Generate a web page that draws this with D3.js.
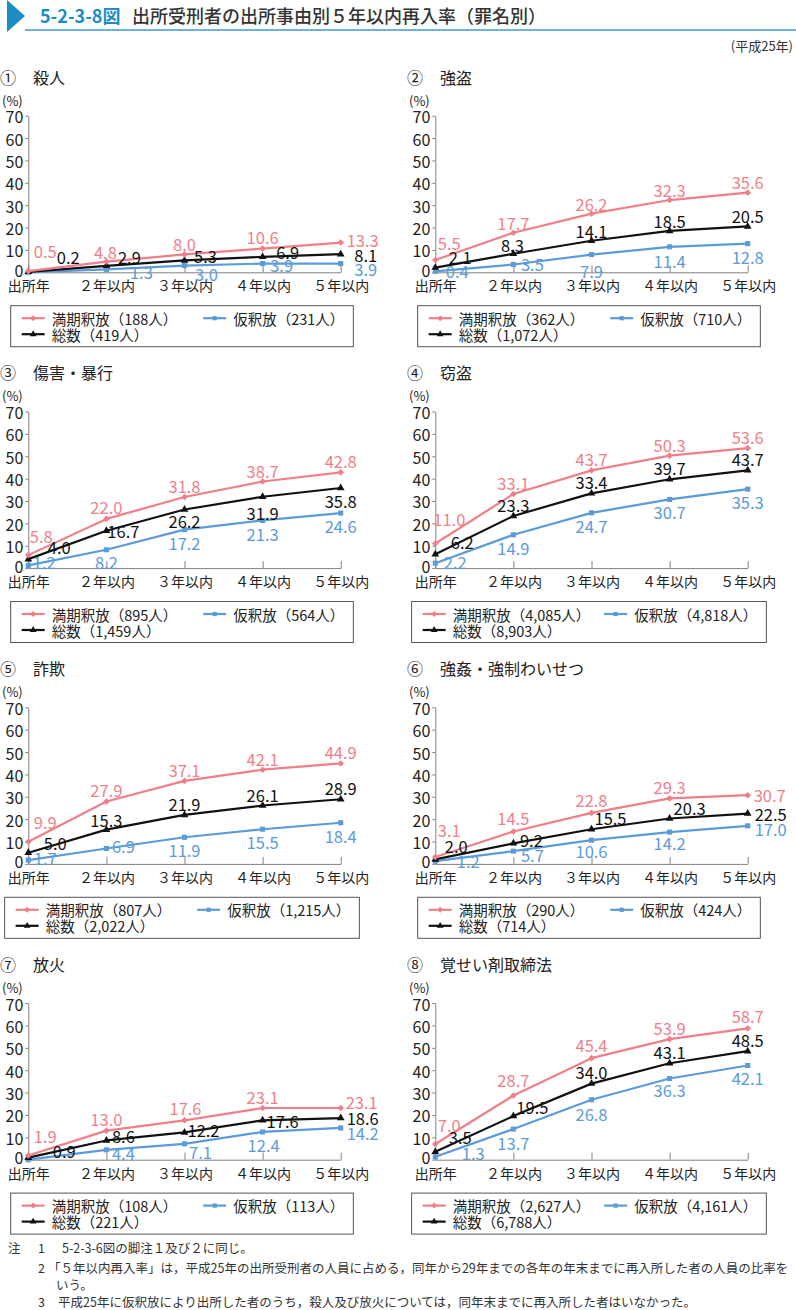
<!DOCTYPE html>
<html><head><meta charset="utf-8">
<script src="https://cdn.jsdelivr.net/npm/d3@7"></script>
<style>
body{margin:0;background:#fff}
svg{display:block}
text{font-family:'Noto Sans CJK JP','Noto Sans',sans-serif}
</style>
</head><body>
<svg id="c" width="796" height="1310"></svg>
<script>
// ---- data ----
const xLabels = ["出所年", "２年以内", "３年以内", "４年以内", "５年以内"];
const yTicks = [0, 10, 20, 30, 40, 50, 60, 70];
const panelNums = ["①", "②", "③", "④", "⑤", "⑥", "⑦", "⑧"];
const panelNames = ["殺人", "強盗", "傷害・暴行", "窃盗", "詐欺", "強姦・強制わいせつ", "放火", "覚せい剤取締法"];
// 満期釈放
const manki = [
  [0.5, 4.8, 8.0, 10.6, 13.3],
  [5.5, 17.7, 26.2, 32.3, 35.6],
  [5.8, 22.0, 31.8, 38.7, 42.8],
  [11.0, 33.1, 43.7, 50.3, 53.6],
  [9.9, 27.9, 37.1, 42.1, 44.9],
  [3.1, 14.5, 22.8, 29.3, 30.7],
  [1.9, 13.0, 17.6, 23.1, 23.1],
  [7.0, 28.7, 45.4, 53.9, 58.7]
];
// 仮釈放
const karishaku = [
  [0, 1.3, 3.0, 3.9, 3.9],
  [0.4, 3.5, 7.9, 11.4, 12.8],
  [1.2, 8.2, 17.2, 21.3, 24.6],
  [2.2, 14.9, 24.7, 30.7, 35.3],
  [1.7, 6.9, 11.9, 15.5, 18.4],
  [1.2, 5.7, 10.6, 14.2, 17.0],
  [0, 4.4, 7.1, 12.4, 14.2],
  [1.3, 13.7, 26.8, 36.3, 42.1]
];
// 総数
const souSu = [
  [0.2, 2.9, 5.3, 6.9, 8.1],
  [2.1, 8.3, 14.1, 18.5, 20.5],
  [4.0, 16.7, 26.2, 31.9, 35.8],
  [6.2, 23.3, 33.4, 39.7, 43.7],
  [5.0, 15.3, 21.9, 26.1, 28.9],
  [2.0, 9.2, 15.5, 20.3, 22.5],
  [0.9, 8.6, 12.2, 17.6, 18.6],
  [3.5, 19.5, 34.0, 43.1, 48.5]
];
const mankiN = ["188", "362", "895", "4,085", "807", "290", "108", "2,627"];
const karishakuN = ["231", "710", "564", "4,818", "1,215", "424", "113", "4,161"];
const souSuN = ["419", "1,072", "1,459", "8,903", "2,022", "714", "221", "6,788"];
// 殺人・放火: 仮釈放の出所年は再入所者なし -> 数値は表示しない
const noLabel = [[0], [], [], [], [], [], [0], []];

// ---- label placement (offsets from the point to the label centre) ----
const mankiOff = [
  [[17,-20],[-1,-10],[0,-10],[0,-12],[22,-3]],
  [[14,-17],[0,-10],[0,-10],[0,-10],[0,-11]],
  [[13,-19],[0,-12],[0,-11],[0,-11],[0,-11]],
  [[14,-24],[0,-11],[0,-11],[0,-11],[0,-11]],
  [[17,-20],[0,-11],[0,-11],[0,-11],[0,-11]],
  [[14,-27],[0,-13],[0,-13],[0,-11],[22,0]],
  [[17,-19],[0,-12],[1,-12],[0,-11],[21,-6]],
  [[14,-19],[0,-15],[0,-13],[0,-11],[0,-12]]
];
const souSuOff = [
  [[40,-15],[23,-9],[21,-4],[25,-5],[25,1]],
  [[25,-11],[-1,-9],[0,-10],[0,-10],[0,-10]],
  [[31,-12],[17,0],[0,12],[0,16],[0,13]],
  [[27,-12],[0,-11],[0,-11],[0,-11],[0,-11]],
  [[27,-10],[0,-10],[0,-11],[0,-11],[0,-11]],
  [[21,-13],[18,-3],[19,-11],[20,-10],[23,0]],
  [[36,-7],[17,-4],[19,-2],[20,1],[22,0]],
  [[25,-15],[19,-9],[0,-12],[0,-11],[0,-11]]
];
const karishakuOff = [
  [[0,0],[35,3],[22,8],[19,1],[25,5]],
  [[22,0],[19,0],[0,16],[0,14],[0,13]],
  [[16,-3],[0,12],[0,13],[0,14],[0,13]],
  [[20,-1],[0,13],[0,13],[0,13],[0,13]],
  [[17,-2],[17,-2],[0,13],[0,13],[0,13]],
  [[33,0],[19,4],[0,11],[0,11],[23,3]],
  [[0,0],[17,3],[16,8],[1,13],[22,5]],
  [[38,-4],[0,14],[0,14],[0,12],[0,12]]
];

// ---- styles ----
const PINK = "#f07f89", BLUE = "#5b9bd9", BLACK = "#111111", AXIS = "#808080";
const FONT = "'Noto Sans CJK JP','Noto Sans',sans-serif";

const svg = d3.select("#c");

// header
svg.append("polygon").attr("points", "7,0 25,16 7,32").attr("fill", "#1b8cc4");
svg.append("line").attr("x1", 25).attr("x2", 796).attr("y1", 30).attr("y2", 30)
  .attr("stroke", "#3b9ad0").attr("stroke-width", 1.5);
svg.append("text").attr("x", 40).attr("y", 15).attr("dominant-baseline", "central")
  .attr("font-size", 18).attr("font-weight", 700).attr("fill", "#1b8cc4").text("5-2-3-8図");
svg.append("text").attr("x", 132).attr("y", 15).attr("dominant-baseline", "central")
  .attr("font-size", 18).attr("font-weight", 500).attr("fill", "#333").text("出所受刑者の出所事由別５年以内再入率（罪名別）");
svg.append("text").attr("x", 793).attr("y", 45).attr("dominant-baseline", "central")
  .attr("text-anchor", "end").attr("font-size", 13).attr("fill", "#333").text("(平成25年)");

// scales (shared by all panels, each panel group is translated)
const x = d3.scalePoint().domain(xLabels).range([28.3, 340.7]);
const y = d3.scaleLinear().domain([0, 70]).range([272.3, 115.7]);
const colX = [0, 407];
const rowDY = 295.8;
const fmt = d3.format(".1f");

const line = d3.line().x((d, j) => x(xLabels[j])).y(d => y(d));

const seriesDefs = [
  {key: "blue", data: karishaku, off: karishakuOff, color: BLUE, sym: d3.symbolSquare, size: 26, rot: 0},
  {key: "black", data: souSu, off: souSuOff, color: BLACK, sym: d3.symbolTriangle, size: 26, rot: 0},
  {key: "pink", data: manki, off: mankiOff, color: PINK, sym: d3.symbolSquare, size: 22, rot: 45}
];

for (let i = 0; i < 8; i++) {
  const col = i % 2, row = Math.floor(i / 2);
  const g = svg.append("g").attr("transform", `translate(${colX[col]},${row * rowDY})`);

  // titles
  g.append("text").attr("x", 0).attr("y", 76.5).attr("dominant-baseline", "central")
    .attr("font-size", 16).attr("fill", "#222").text(panelNums[i]);
  g.append("text").attr("x", 33).attr("y", 76.5).attr("dominant-baseline", "central")
    .attr("font-size", 16).attr("fill", "#222").text(panelNames[i]);
  g.append("text").attr("x", 2).attr("y", 100).attr("dominant-baseline", "central")
    .attr("font-size", 13).attr("fill", "#222").text("(%)");

  // y axis
  const ya = g.append("g").attr("transform", `translate(${x(xLabels[0])},0)`)
    .call(d3.axisLeft(y).tickValues(yTicks).tickSize(3).tickSizeOuter(0).tickPadding(2));
  ya.select(".domain").attr("stroke", AXIS);
  ya.selectAll(".tick line").attr("stroke", AXIS);
  ya.selectAll(".tick text").attr("font-size", 16).attr("font-family", FONT).attr("fill", "#222")
    .attr("dy", null).attr("dominant-baseline", "central")
    .attr("y", d => d === 0 ? -3 : 0);

  // x axis
  const xa = g.append("g").attr("transform", `translate(0,${y(0)})`)
    .call(d3.axisBottom(x).tickSize(-7).tickSizeOuter(0).tickPadding(0));
  xa.select(".domain").attr("stroke", AXIS);
  xa.selectAll(".tick line").attr("stroke", AXIS);
  xa.selectAll(".tick text").attr("font-size", 14).attr("font-family", FONT).attr("fill", "#222")
    .attr("dy", null).attr("y", 13).attr("dominant-baseline", "central");

  // lines
  seriesDefs.forEach(s => {
    g.append("path").datum(s.data[i]).attr("d", line)
      .attr("fill", "none").attr("stroke", s.color).attr("stroke-width", 2.2)
      .attr("stroke-linejoin", "round");
  });
  // markers
  seriesDefs.forEach(s => {
    g.selectAll(null).data(s.data[i]).join("path")
      .attr("d", d3.symbol().type(s.sym).size(s.size))
      .attr("transform", (d, j) => `translate(${x(xLabels[j])},${y(d)}) rotate(${s.rot})`)
      .attr("fill", s.color);
  });
  // labels
  seriesDefs.forEach(s => {
    s.data[i].forEach((v, j) => {
      if (s.key === "blue" && noLabel[i].includes(j)) return;
      const o = s.off[i][j];
      g.append("text").attr("x", x(xLabels[j]) + o[0]).attr("y", y(v) + o[1])
        .attr("text-anchor", "middle").attr("dominant-baseline", "central")
        .attr("font-size", 16.5).attr("fill", s.color).text(fmt(v));
    });
  });

  // legend
  const cx = 182;
  const lg = g.append("g");
  const items = [
    {label: `満期釈放（${mankiN[i]}人）`, color: PINK, sym: d3.symbolSquare, size: 18, rot: 45, c: 0, r: 0},
    {label: `仮釈放（${karishakuN[i]}人）`, color: BLUE, sym: d3.symbolSquare, size: 18, rot: 0, c: 1, r: 0},
    {label: `総数（${souSuN[i]}人）`, color: BLACK, sym: d3.symbolTriangle, size: 20, rot: 0, c: 0, r: 1}
  ];
  const box = lg.append("rect").attr("fill", "#fff").attr("stroke", "#555").attr("stroke-width", 1);
  const texts = [];
  items.forEach(it => {
    const ig = lg.append("g").attr("transform", `translate(${it.c * 181.5},${it.r * 16})`);
    ig.append("line").attr("x1", 11).attr("x2", 34).attr("y1", 0).attr("y2", 0)
      .attr("stroke", it.color).attr("stroke-width", 2.2);
    ig.append("path").attr("d", d3.symbol().type(it.sym).size(it.size)())
      .attr("transform", `translate(22.5,0) rotate(${it.rot})`).attr("fill", it.color);
    const t = ig.append("text").attr("x", 41).attr("y", 0).attr("dominant-baseline", "central")
      .attr("font-size", 14.5).attr("fill", "#222").text(it.label);
    texts.push(t);
  });
  const w2 = texts[1].node().getComputedTextLength();
  const bw = 181.5 + 41 + w2 + 9;
  const bx = cx - bw / 2;
  box.attr("x", 0).attr("y", -12.5).attr("width", bw).attr("height", 41);
  lg.attr("transform", `translate(${bx},${305.7 + 12.5})`);
}

// footnotes
const notes = [
  {x: 8, y: 1247, t: "注"},
  {x: 38, y: 1247, t: "1"},
  {x: 62, y: 1247, t: "5-2-3-6図の脚注１及び２に同じ。"},
  {x: 38, y: 1267, t: "2"},
  {x: 48, y: 1267, t: "「５年以内再入率」は，平成25年の出所受刑者の人員に占める，同年から29年までの各年の年末までに再入所した者の人員の比率を"},
  {x: 56, y: 1284, t: "いう。"},
  {x: 38, y: 1301, t: "3"},
  {x: 58, y: 1301, t: "平成25年に仮釈放により出所した者のうち，殺人及び放火については，同年末までに再入所した者はいなかった。"}
];
svg.selectAll(null).data(notes).join("text")
  .attr("x", d => d.x).attr("y", d => d.y).attr("dominant-baseline", "central")
  .attr("font-size", 12.5).attr("fill", "#333").text(d => d.t);
</script>
</body></html>
